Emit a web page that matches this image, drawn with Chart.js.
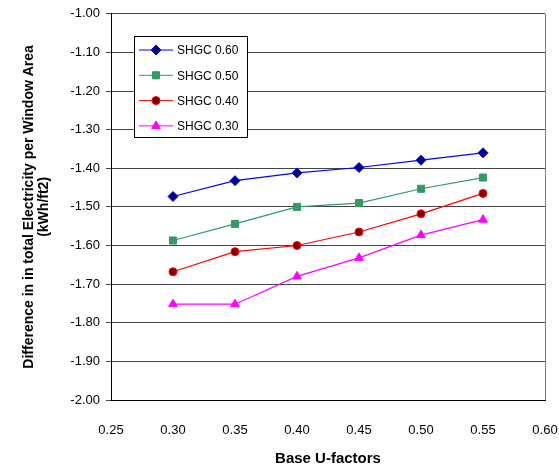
<!DOCTYPE html>
<html>
<head>
<meta charset="utf-8">
<script src="https://cdn.jsdelivr.net/npm/chart.js@4"></script>
<style>
  body { margin: 0; background: #fff; }
  #wrap { width: 559px; height: 469px; }
</style>
</head>
<body>
<div id="wrap"><canvas id="grafico"></canvas></div>
<script>
// dados
var uFactors = [0.30, 0.35, 0.40, 0.45, 0.50, 0.55];
var shgc060 = [-1.473, -1.432, -1.412, -1.398, -1.379, -1.360];
var shgc050 = [-1.587, -1.544, -1.500, -1.490, -1.453, -1.424];
var shgc040 = [-1.668, -1.616, -1.600, -1.565, -1.518, -1.465];
var shgc030 = [-1.752, -1.752, -1.680, -1.632, -1.573, -1.533];
var nomes = ['SHGC 0.60', 'SHGC 0.50', 'SHGC 0.40', 'SHGC 0.30'];

function pontos(valores) {
    return uFactors.map(function (u, i) { return { x: u, y: valores[i] }; });
}

var FONTE = "'Liberation Sans', Arial, sans-serif";

// legenda desenhada dentro da área do gráfico, como no original
var legendaPlugin = {
    id: 'legendaInterna',
    afterDraw: function (chart) {
        var ctx = chart.ctx;
        var area = chart.chartArea;
        ctx.save();
        // borda direita cinza
        ctx.strokeStyle = '#808080';
        ctx.lineWidth = 1;
        ctx.beginPath();
        ctx.moveTo(area.right + 0.5, area.top);
        ctx.lineTo(area.right + 0.5, area.bottom);
        ctx.stroke();

        var bx = 134, by = 36, bw = 113, bh = 101;
        ctx.fillStyle = '#fff';
        ctx.fillRect(bx, by, bw, bh);
        ctx.strokeStyle = '#000';
        ctx.strokeRect(bx + 0.5, by + 0.5, bw, bh);
        ctx.font = '12px ' + FONTE;
        ctx.textBaseline = 'middle';
        chart.data.datasets.forEach(function (ds, i) {
            var y = 50 + i * 25.3;
            ctx.strokeStyle = ds.borderColor;
            ctx.lineWidth = 1;
            ctx.beginPath();
            ctx.moveTo(139, y);
            ctx.lineTo(173, y);
            ctx.stroke();
            ctx.fillStyle = ds.pointBackgroundColor;
            ctx.strokeStyle = ds.pointBorderColor;
            Chart.helpers.drawPoint(ctx, {
                pointStyle: ds.pointStyle,
                radius: ds.pointRadius,
                borderWidth: 1,
                rotation: 0
            }, 156, y);
            ctx.fillStyle = '#000';
            ctx.fillText(ds.label, 177, y + 1);
        });
        ctx.restore();
    }
};

var ctx = document.getElementById('grafico').getContext('2d');
var myChart = new Chart(ctx, {
    type: 'line',
    data: {
        datasets: [{
            label: nomes[0],
            data: pontos(shgc060),
            borderColor: '#0000ff',
            pointBackgroundColor: '#000080',
            pointBorderColor: '#0000ff',
            pointStyle: 'rectRot',
            pointRadius: 5
        }, {
            label: nomes[1],
            data: pontos(shgc050),
            borderColor: '#339966',
            pointBackgroundColor: '#339966',
            pointBorderColor: '#339966',
            pointStyle: 'rect',
            pointRadius: 5
        }, {
            label: nomes[2],
            data: pontos(shgc040),
            borderColor: '#ff0000',
            pointBackgroundColor: '#800000',
            pointBorderColor: '#ff0000',
            pointStyle: 'circle',
            pointRadius: 4
        }, {
            label: nomes[3],
            data: pontos(shgc030),
            borderColor: '#ff00ff',
            pointBackgroundColor: '#ff00ff',
            pointBorderColor: '#ff00ff',
            pointStyle: 'triangle',
            pointRadius: 5
        }]
    },
    options: {
        responsive: true,
        maintainAspectRatio: false,
        animation: false,
        elements: {
            line: { borderWidth: 1.2, tension: 0 },
            point: { borderWidth: 1 }
        },
        layout: { padding: { left: 0, right: 2, top: 13, bottom: 0 } },
        plugins: {
            legend: { display: false },
            tooltip: { enabled: false }
        },
        scales: {
            x: {
                type: 'linear',
                min: 0.25,
                max: 0.60,
                ticks: {
                    stepSize: 0.05,
                    padding: 23,
                    color: '#000',
                    font: { family: FONTE, size: 13 },
                    callback: function (v) { return v.toFixed(2); }
                },
                grid: { display: false, drawTicks: false },
                border: { display: true, color: '#000', width: 1 },
                title: {
                    display: true,
                    text: 'Base U-factors',
                    color: '#000',
                    font: { family: FONTE, size: 15, weight: 'bold' },
                    padding: { top: 0, bottom: 1 }
                },
                afterFit: function (scale) {
                    scale.height = 69;
                    // o padding dos rótulos não deve encolher a área na horizontal
                    scale.paddingLeft = 0;
                    scale.paddingRight = 14;
                }
            },
            y: {
                min: -2.0,
                max: -1.0,
                ticks: {
                    stepSize: 0.1,
                    padding: 6,
                    color: '#000',
                    font: { family: FONTE, size: 13 },
                    callback: function (v) { return v.toFixed(2); }
                },
                grid: { color: '#444', lineWidth: 1, drawTicks: true, tickLength: 5 },
                border: { display: true, color: '#000', width: 1 },
                title: {
                    display: true,
                    text: ['Difference in in total Electricity per Window Area', '(kWh/ft2)'],
                    color: '#000',
                    font: { family: FONTE, size: 14, weight: 'bold', lineHeight: 1.05 },
                    padding: { top: 22, bottom: 0 }
                },
                afterFit: function (scale) { scale.width = 111; }
            }
        }
    },
    plugins: [legendaPlugin]
});
</script>
</body>
</html>
